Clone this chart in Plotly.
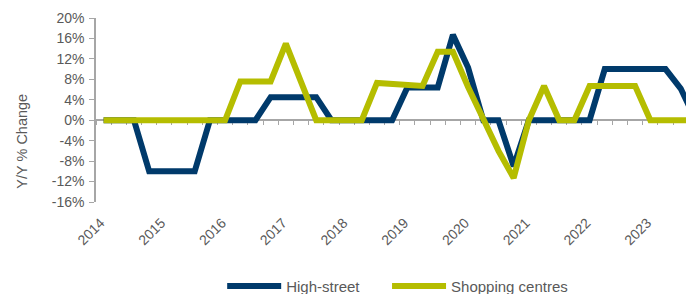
import plotly.graph_objects as go

# Quarterly data, 2014 Q1 .. 2023 Q4
years = ["2014", "2015", "2016", "2017", "2018", "2019", "2020", "2021", "2022", "2023"]
quarters = list(range(40))

high_street = [0, 0, 0, -10, -10, -10, -10, 0, 0, 0,
               0, 4.5, 4.5, 4.5, 4.5, 0, 0, 0, 0, 0,
               6.4, 6.4, 6.4, 16.7, 10.3, 0, 0, -9.0, 0, 0,
               0, 0, 0, 10, 10, 10, 10, 10, 6.2, 0]

shopping_centres = [0, 0, 0, 0, 0, 0, 0, 0, 0, 7.6,
                    7.6, 7.6, 15.0, 7.6, 0, 0, 0, 0, 7.3, 7.1,
                    6.8, 6.7, 13.4, 13.4, 6.5, 0, -6.0, -11.3, 0, 6.7,
                    0, 0, 6.7, 6.7, 6.7, 6.7, 0, 0, 0, 0]

y_tick_values = [-16, -12, -8, -4, 0, 4, 8, 12, 16, 20]
y_tick_labels = ["-16%", "-12%", "-8%", "-4%", "0%", "4%", "8%", "12%", "16%", "20%"]

BLUE = "#003A6B"
GREEN = "#B5BD00"
GRAY = "#A6A6A6"
TEXT = "#595959"
FONT = "Liberation Sans, Arial, sans-serif"

# figure geometry (page body has an 8px margin)
FIG_W, FIG_H = 686, 286
M_L, M_T, M_B = 87.5, 10.3, 92.3
plot_w = FIG_W - M_L
plot_h = FIG_H - M_T - M_B

n = len(quarters)
x_start = -0.5
x_end = -0.5 + plot_w / 15.2
y_min, y_max = -16, 20

fig = go.Figure()
fig.add_trace(go.Scatter(x=quarters, y=high_street, name="High-street", mode="lines",
                         line=dict(color=BLUE, width=6), hoverinfo="skip", legend="legend"))
fig.add_trace(go.Scatter(x=quarters, y=shopping_centres, name="Shopping centres", mode="lines",
                         line=dict(color=GREEN, width=6), hoverinfo="skip", legend="legend2"))
# empty trace so the zero-crossing axis gets drawn
fig.add_trace(go.Scatter(x=[], y=[], xaxis="x2", showlegend=False, hoverinfo="skip"))

legend_y = (plot_h + M_T - (FIG_H + 8)) / plot_h
legend_style = dict(orientation="h", xanchor="left", xref="paper",
                    y=legend_y, yanchor="bottom", yref="paper",
                    font=dict(size=15, color=TEXT), itemwidth=54,
                    bgcolor="rgba(0,0,0,0)")

fig.update_layout(
    width=FIG_W, height=FIG_H,
    margin=dict(l=M_L, r=0, t=M_T, b=M_B, pad=0, autoexpand=False),
    paper_bgcolor="white", plot_bgcolor="white",
    font=dict(family=FONT, color=TEXT, size=14),
    showlegend=True,
    legend=dict(x=0.211, **legend_style),
    legend2=dict(x=0.4867, **legend_style),
    xaxis=dict(range=[x_start, x_end], tickmode="array",
               tickvals=[quarters[i] for i in range(0, n, 4)], ticktext=years,
               tickangle=-45, ticks="", showline=False, showgrid=False, zeroline=False,
               ticklabelstandoff=9, ticklabelshift=-3, automargin=False,
               tickfont=dict(size=14, color=TEXT)),
    xaxis2=dict(range=[x_start, x_end], overlaying="x", anchor="free",
                position=(0 - y_min) / (y_max - y_min),
                tickmode="array", tickvals=[q - 0.5 for q in quarters] + [quarters[-1] + 0.5],
                showticklabels=False, ticks="outside", ticklen=4, tickcolor=GRAY, tickwidth=1,
                showline=True, linecolor=GRAY, linewidth=1.5, showgrid=False, zeroline=False,
                layer="below traces", automargin=False),
    yaxis=dict(range=[y_min, y_max], tickmode="array", tickvals=y_tick_values,
               ticktext=y_tick_labels, ticks="outside", ticklen=5, tickcolor=GRAY,
               showline=True, linecolor=GRAY, linewidth=1.5, showgrid=False, zeroline=False,
               ticklabelstandoff=2, automargin=False,
               tickfont=dict(size=14, color=TEXT)),
    annotations=[dict(text="Y/Y % Change", xref="paper", yref="paper",
                      x=(14 - M_L) / plot_w, y=(M_T + plot_h - 133) / plot_h, textangle=-90,
                      showarrow=False, font=dict(size=14.5, color=TEXT),
                      xanchor="center", yanchor="middle")],
)

fig.write_html("out.html")
